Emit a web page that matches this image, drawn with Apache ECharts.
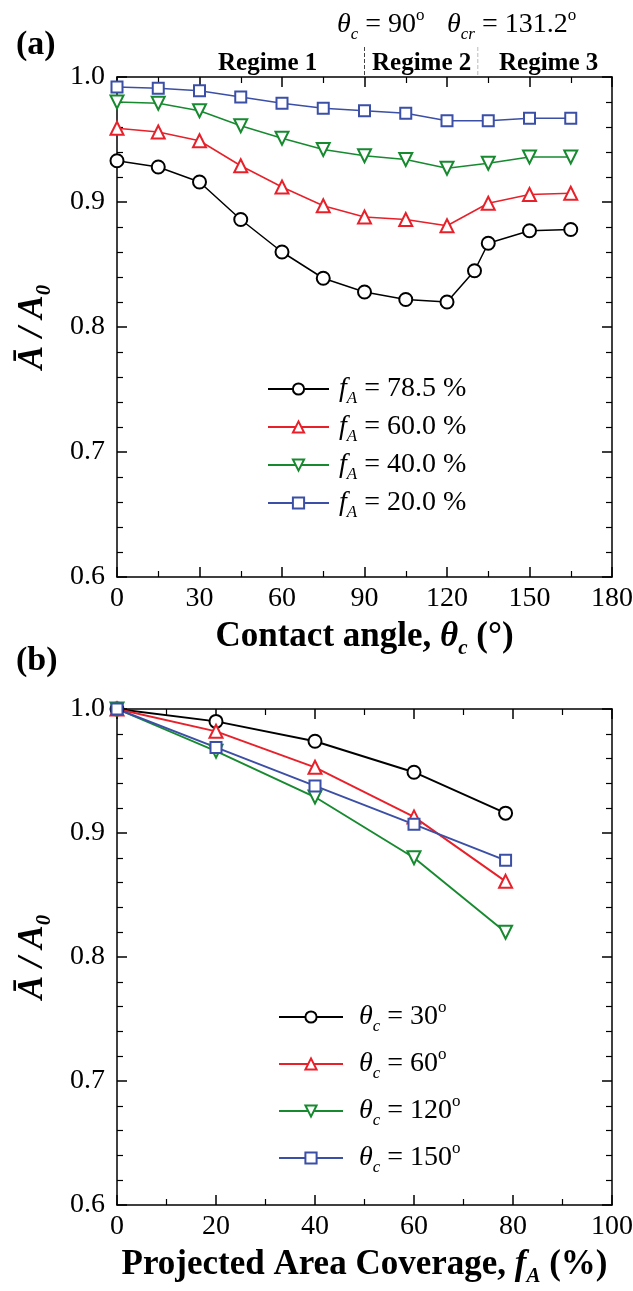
<!DOCTYPE html>
<html><head><meta charset="utf-8">
<script src="https://cdn.jsdelivr.net/npm/echarts@6/dist/echarts.min.js"></script>
<style>html,body{margin:0;padding:0;background:#fff}#c{width:633px;height:1291px}</style>
</head><body><div id="c"></div>
<script>
// ---------- data ----------
const anglesA = [0, 15, 30, 45, 60, 75, 90, 105, 120, 135, 150, 165];
const anglesBlack = [0, 15, 30, 45, 60, 75, 90, 105, 120, 130, 135, 150, 165];
const fA785 = [0.933, 0.928, 0.916, 0.886, 0.860, 0.839, 0.828, 0.822, 0.820, 0.845, 0.867, 0.877, 0.878];
const fA600 = [0.959, 0.956, 0.949, 0.929, 0.912, 0.897, 0.888, 0.886, 0.881, 0.899, 0.906, 0.907];
const fA400 = [0.980, 0.979, 0.973, 0.961, 0.951, 0.942, 0.937, 0.934, 0.927, 0.931, 0.936, 0.936];
const fA200 = [0.992, 0.991, 0.989, 0.984, 0.979, 0.975, 0.973, 0.971, 0.965, 0.965, 0.967, 0.967];
const coverageB = [0, 20, 40, 60, 78.5];
const theta30 = [1.0, 0.990, 0.974, 0.949, 0.916];
const theta60 = [1.0, 0.982, 0.953, 0.913, 0.861];
const theta120 = [1.0, 0.966, 0.929, 0.880, 0.820];
const theta150 = [1.0, 0.969, 0.938, 0.907, 0.878];
const regimeBounds = [90, 131.2];
const legendA = ['78.5', '60.0', '40.0', '20.0'];
const legendB = ['30', '60', '120', '150'];
const xRangeA = [0, 180, 30];
const xRangeB = [0, 100, 20];
const yRange = [0.6, 1.0, 0.1];

// ---------- style ----------
const serif = 'Liberation Serif';
const C = {k: '#000000', r: '#e8202a', g: '#178a30', b: '#3b4fa6'};
const gridA = {left: 117, top: 77, width: 495, height: 500, outerBoundsMode: 'none', containLabel: false};
const gridB = {left: 117, top: 709, width: 495, height: 496, outerBoundsMode: 'none', containLabel: false};

function ser(name, xs, ys, color, symbol, rot, gi) {
  return {
    name, type: 'line', xAxisIndex: gi * 2, yAxisIndex: gi * 2,
    data: xs.map((x, i) => [x, ys[i]]),
    symbol, symbolSize: symbol === 'emptyRect' ? 11 : 13, symbolRotate: rot,
    lineStyle: {color, width: gi === 0 ? 1.5 : 1.9},
    itemStyle: {color, borderColor: color, borderWidth: 2},
    emphasis: {disabled: true}, silent: true
  };
}

function xAx(gi, pos, r, name) {
  const main = pos === 'bottom';
  return {
    type: 'value', gridIndex: gi, position: pos, min: r[0], max: r[1], interval: r[2],
    axisLine: {show: true, onZero: false, lineStyle: {color: '#000', width: 1.5}},
    axisTick: {show: true, inside: true, length: 10, lineStyle: {color: '#000', width: 1.5}},
    minorTick: {show: true, splitNumber: 2, length: 6, lineStyle: {color: '#000', width: 1.2}},
    splitLine: {show: false},
    axisLabel: {show: main, fontFamily: serif, fontSize: 28, color: '#000', margin: 8},
    name: main ? name : '', nameLocation: 'middle', nameGap: 38, nameMoveOverlap: false,
    nameTextStyle: {rich: titleRich}
  };
}
function yAx(gi, pos, name) {
  const main = pos === 'left';
  return {
    type: 'value', gridIndex: gi, position: pos, min: yRange[0], max: yRange[1], interval: yRange[2],
    axisLine: {show: true, onZero: false, lineStyle: {color: '#000', width: 1.5}},
    axisTick: {show: true, inside: true, length: 10, lineStyle: {color: '#000', width: 1.5}},
    minorTick: {show: true, splitNumber: 5, length: 6, lineStyle: {color: '#000', width: 1.2}},
    splitLine: {show: false},
    axisLabel: {show: main, fontFamily: serif, fontSize: 28, color: '#000', margin: 12,
      formatter: v => v.toFixed(1)},
    name: main ? name : '', nameLocation: 'middle', nameGap: 62, nameMoveOverlap: false,
    nameTextStyle: {rich: ylabRich}
  };
}

const titleRich = {
  b: {fontFamily: serif, fontWeight: 'bold', fontSize: 35, lineHeight: 44, color: '#000'},
  t: {fontFamily: serif, fontWeight: 'bold', fontStyle: 'italic', fontSize: 35, lineHeight: 44, color: '#000'},
  s: {fontFamily: serif, fontWeight: 'bold', fontStyle: 'italic', fontSize: 21, lineHeight: 21, verticalAlign: 'bottom', color: '#000'}
};
const ylabRich = {
  a: {fontFamily: serif, fontWeight: 'bold', fontStyle: 'italic', fontSize: 35, lineHeight: 44, color: '#000'},
  s: {fontFamily: serif, fontWeight: 'bold', fontStyle: 'italic', fontSize: 21, lineHeight: 21, verticalAlign: 'bottom', color: '#000'}
};
const legRich = {
  f: {fontFamily: serif, fontStyle: 'italic', fontSize: 28, lineHeight: 36, color: '#000', padding: [0, 0, 0, 5]},
  t: {fontFamily: serif, fontStyle: 'italic', fontSize: 28, lineHeight: 36, color: '#000', padding: [0, 0, 0, 11]},
  s: {fontFamily: serif, fontStyle: 'italic', fontSize: 17, lineHeight: 17, verticalAlign: 'bottom', color: '#000'},
  n: {fontFamily: serif, fontSize: 28, lineHeight: 36, color: '#000'},
  u: {fontFamily: serif, fontSize: 17, lineHeight: 17, verticalAlign: 'top', color: '#000'}
};
const headRich = {
  t: {fontFamily: serif, fontStyle: 'italic', fontSize: 28, lineHeight: 36, fill: '#000'},
  s: {fontFamily: serif, fontStyle: 'italic', fontSize: 17, lineHeight: 17, verticalAlign: 'bottom', fill: '#000'},
  n: {fontFamily: serif, fontSize: 28, lineHeight: 36, fill: '#000'},
  u: {fontFamily: serif, fontSize: 17, lineHeight: 17, verticalAlign: 'top', fill: '#000'}
};

const namesA = legendA.map(v => 'fA' + v);
const namesB = legendB.map(v => 'th' + v);
const seriesList = [
  ser(namesA[0], anglesBlack, fA785, C.k, 'emptyCircle', 0, 0),
  ser(namesA[1], anglesA, fA600, C.r, 'emptyTriangle', 0, 0),
  ser(namesA[2], anglesA, fA400, C.g, 'emptyTriangle', 180, 0),
  ser(namesA[3], anglesA, fA200, C.b, 'emptyRect', 0, 0),
  ser(namesB[0], coverageB, theta30, C.k, 'emptyCircle', 0, 1),
  ser(namesB[1], coverageB, theta60, C.r, 'emptyTriangle', 0, 1),
  ser(namesB[2], coverageB, theta120, C.g, 'emptyTriangle', 180, 1),
  ser(namesB[3], coverageB, theta150, C.b, 'emptyRect', 0, 1),
  {
    type: 'custom', xAxisIndex: 0, yAxisIndex: 0, clip: false, silent: true,
    data: regimeBounds.map(v => [v, yRange[1]]),
    renderItem: (params, api) => {
      const p = api.coord([api.value(0), api.value(1)]);
      return {type: 'line', shape: {x1: p[0], y1: p[1] - 30, x2: p[0], y2: p[1] - 2},
        style: {stroke: params.dataIndex === 0 ? '#444' : '#bbb', lineWidth: 1, lineDash: [4, 2]}};
    }
  }
];

const option = {
  animation: false,
  backgroundColor: '#fff',
  grid: [Object.assign({}, gridA), Object.assign({}, gridB)],
  xAxis: [
    xAx(0, 'bottom', xRangeA, '{b|Contact angle, }{t|θ}{s|c}{b| (°)}'),
    xAx(0, 'top', xRangeA, ''),
    xAx(1, 'bottom', xRangeB, '{b|Projected Area Coverage, }{t|f}{s|A}{b| (%)}'),
    xAx(1, 'top', xRangeB, '')
  ],
  yAxis: [
    yAx(0, 'left', '{a|Ā / A}{s|0}'),
    yAx(0, 'right', ''),
    yAx(1, 'left', '{a|Ā / A}{s|0}'),
    yAx(1, 'right', '')
  ],
  legend: [
    {data: namesA, orient: 'vertical', left: 262, top: 370, itemWidth: 61, itemHeight: 14, itemGap: 6,
      symbolRotate: 'inherit', selectedMode: false,
      formatter: n => '{f|f}{s|A}{n| = ' + n.slice(2) + ' %}', textStyle: {rich: legRich}},
    {data: namesB, orient: 'vertical', left: 273, top: 994, itemWidth: 64, itemHeight: 14, itemGap: 11,
      symbolRotate: 'inherit', selectedMode: false,
      formatter: n => '{t|θ}{s|c}{n| = ' + n.slice(2) + '}{u|o}', textStyle: {rich: legRich}}
  ],
  graphic: [
    {type: 'text', left: 16, top: 28, style: {text: '(a)', font: 'bold 34px "Liberation Serif"', fill: '#000'}},
    {type: 'text', left: 16, top: 644, style: {text: '(b)', font: 'bold 34px "Liberation Serif"', fill: '#000'}},
    {type: 'text', left: 337, top: 7, style: {text: '{t|θ}{s|c}{n| = 90}{u|o}', rich: headRich}},
    {type: 'text', left: 447, top: 7, style: {text: '{t|θ}{s|cr}{n| = 131.2}{u|o}', rich: headRich}},
    {type: 'text', left: 218, top: 51, style: {text: 'Regime 1', font: 'bold 25px "Liberation Serif"', fill: '#000'}},
    {type: 'text', left: 372, top: 51, style: {text: 'Regime 2', font: 'bold 25px "Liberation Serif"', fill: '#000'}},
    {type: 'text', left: 499, top: 51, style: {text: 'Regime 3', font: 'bold 25px "Liberation Serif"', fill: '#000'}}
  ],
  series: seriesList
};
const chart = echarts.init(document.getElementById('c'), null, {renderer: 'canvas'});
chart.setOption(option);
</script>
</body></html>
